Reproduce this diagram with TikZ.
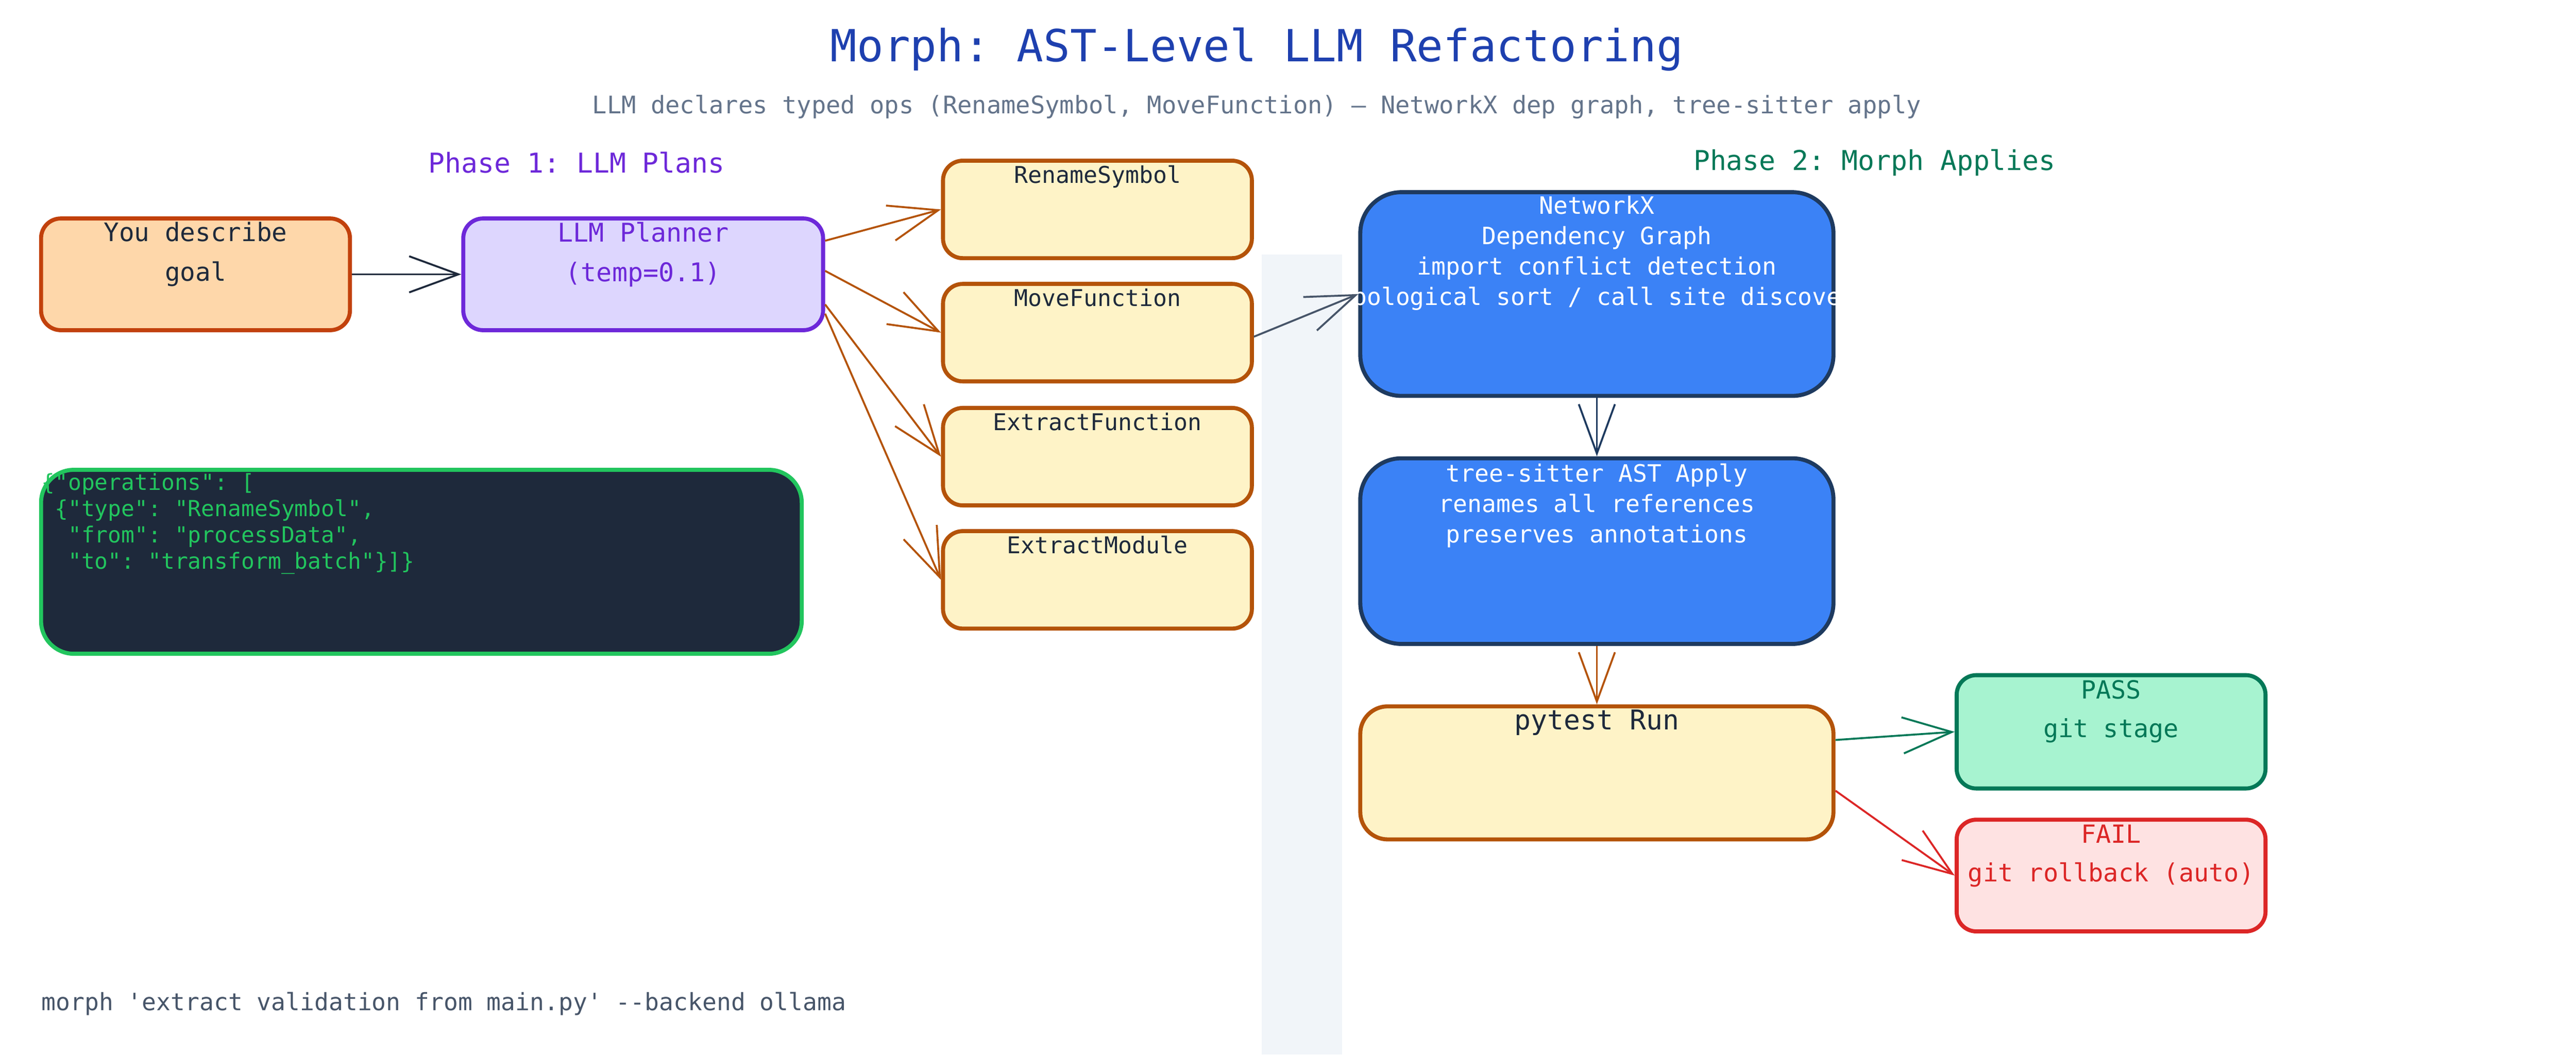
\documentclass[tikz,border=0pt]{standalone}
\usepackage{fontspec}
\setmonofont{DejaVu Sans Mono}
\usetikzlibrary{arrows.meta,calc}
\definecolor{titleblue}{HTML}{1E40AF}
\definecolor{slate}{HTML}{64748B}
\definecolor{slatedk}{HTML}{475569}
\definecolor{ink}{HTML}{1E293B}
\definecolor{purp}{HTML}{6D28D9}
\definecolor{lav}{HTML}{DDD6FE}
\definecolor{peach}{HTML}{FED7AA}
\definecolor{rust}{HTML}{C2410C}
\definecolor{cream}{HTML}{FEF3C7}
\definecolor{amberdk}{HTML}{B45309}
\definecolor{navy}{HTML}{1E293B}
\definecolor{grn}{HTML}{22C55E}
\definecolor{blu}{HTML}{3B82F6}
\definecolor{bluedk}{HTML}{1E3A5F}
\definecolor{mint}{HTML}{A7F3D0}
\definecolor{emer}{HTML}{047857}
\definecolor{pinkl}{HTML}{FEE2E2}
\definecolor{redd}{HTML}{DC2626}
\definecolor{band}{HTML}{F1F5F9}
\definecolor{arrgray}{HTML}{475569}
\begin{document}
\begin{tikzpicture}[x={(0.03cm,0)},y={(0,-0.03cm)},font=\ttfamily,
  box/.style={draw,line width=2.1pt,rounded corners=0.36cm,inner sep=0pt},
  big/.style={box,rounded corners=0.75cm},
  lbl/.style={anchor=north,align=center,inner sep=0pt,font=\ttfamily\fontsize{12.4}{15.8}\selectfont},
  arr/.style={line width=1pt,-{Straight Barb[length=0.9cm,width=0.66cm,line width=1pt]}}]
\useasboundingbox (0,0) rectangle (1568,642);
\fill[band] (768,155) rectangle (817,642);
\node[text=titleblue,font=\ttfamily\fontsize{23}{28}\selectfont] (title) at (765,30) {Morph: AST-Level LLM Refactoring};
\node[text=slate,font=\ttfamily\fontsize{12.6}{15}\selectfont] (sub) at (765,65) {LLM declares typed ops (RenameSymbol, MoveFunction) — NetworkX dep graph, tree-sitter apply};
\node[text=purp,font=\ttfamily\fontsize{14.2}{17}\selectfont] (ph1) at (351,99) {Phase 1: LLM Plans};
\node[text=emer,font=\ttfamily\fontsize{14.2}{17}\selectfont] (ph2) at (1141,99) {Phase 2: Morph Applies};
% boxes
\node[box,draw=rust,fill=peach,minimum width=5.64cm,minimum height=2.04cm] (goal) at (119,167) {};
\node[lbl,text=ink,font=\ttfamily\fontsize{13.2}{20.5}\selectfont] at (119,135) {You describe\\goal};
\node[box,draw=purp,fill=lav,minimum width=6.57cm,minimum height=2.04cm] (plan) at (391.5,167) {};
\node[lbl,text=purp,font=\ttfamily\fontsize{13.4}{20.5}\selectfont] at (391.5,135) {LLM Planner\\(temp=0.1)};
\foreach \n/\y/\t in {rs/127.5/RenameSymbol,mf/202.5/MoveFunction,ef/278/ExtractFunction,em/353/ExtractModule}{
  \node[box,draw=amberdk,fill=cream,minimum width=5.64cm,minimum height=1.78cm] (\n) at (668,\y) {};
  \node[lbl,text=ink,font=\ttfamily\fontsize{12}{15}\selectfont] at (668,\y-27) {\t};
}
\node[big,draw=grn,fill=navy,rounded corners=0.6cm,minimum width=13.89cm,minimum height=3.36cm] (json) at (256.5,342) {};
\node[anchor=north west,align=left,inner sep=0pt,text=grn,font=\ttfamily\fontsize{11.5}{13.6}\selectfont] at (25,288) {\{"operations": [\\\ \{"type": "RenameSymbol",\\\ \ "from": "processData",\\\ \ "to": "transform\_batch"\}]\}};
\node[big,draw=bluedk,fill=blu,minimum width=8.64cm,minimum height=3.72cm] (nx) at (972,179) {};
\begin{scope}
\clip (822,117) rectangle (1120,241);
\node[lbl,text=white] at (972,119) {NetworkX\\Dependency Graph\\import conflict detection\\topological sort / call site discovery};
\end{scope}
\node[big,draw=bluedk,fill=blu,minimum width=8.64cm,minimum height=3.39cm] (ts) at (972,335.5) {};
\node[lbl,text=white] at (972,282) {tree-sitter AST Apply\\renames all references\\preserves annotations};
\node[box,draw=amberdk,fill=cream,rounded corners=0.5cm,minimum width=8.64cm,minimum height=2.43cm] (pt) at (972,470.5) {};
\node[lbl,text=ink,font=\ttfamily\fontsize{14.2}{17}\selectfont] at (972,432) {pytest Run};
\node[box,draw=emer,fill=mint,minimum width=5.64cm,minimum height=2.07cm] (pass) at (1285,445.5) {};
\node[lbl,text=emer,font=\ttfamily\fontsize{13}{20}\selectfont] at (1285,414) {PASS\\git stage};
\node[box,draw=redd,fill=pinkl,minimum width=5.64cm,minimum height=2.04cm] (fail) at (1285,533) {};
\node[lbl,text=redd,font=\ttfamily\fontsize{13}{20}\selectfont] at (1285,502) {FAIL\\git rollback (auto)};
\node[anchor=west,inner sep=0pt,text=slatedk,font=\ttfamily\fontsize{12.4}{15}\selectfont] (cmd) at (25,611) {morph 'extract validation from main.py' --backend ollama};
% arrows
\draw[arr,draw=ink] (goal.east) -- (plan.west);
\draw[arr,draw=amberdk] ($(plan.north east)!0.21!(plan.south east)$) -- (rs.west);
\draw[arr,draw=amberdk] ($(plan.north east)!0.47!(plan.south east)$) -- (mf.west);
\draw[arr,draw=amberdk] ($(plan.north east)!0.76!(plan.south east)$) -- (ef.west);
\draw[arr,draw=amberdk] ($(plan.north east)!0.84!(plan.south east)$) -- (em.west);
\draw[arr,draw=arrgray] ($(mf.north east)!0.54!(mf.south east)$) -- (nx.west);
\draw[arr,draw=bluedk] (nx.south) -- (ts.north);
\draw[arr,draw=amberdk] (ts.south) -- (pt.north);
\draw[arr,draw=emer] ($(pt.north east)!0.26!(pt.south east)$) -- (pass.west);
\draw[arr,draw=redd] ($(pt.north east)!0.63!(pt.south east)$) -- (fail.west);
\end{tikzpicture}
\end{document}
